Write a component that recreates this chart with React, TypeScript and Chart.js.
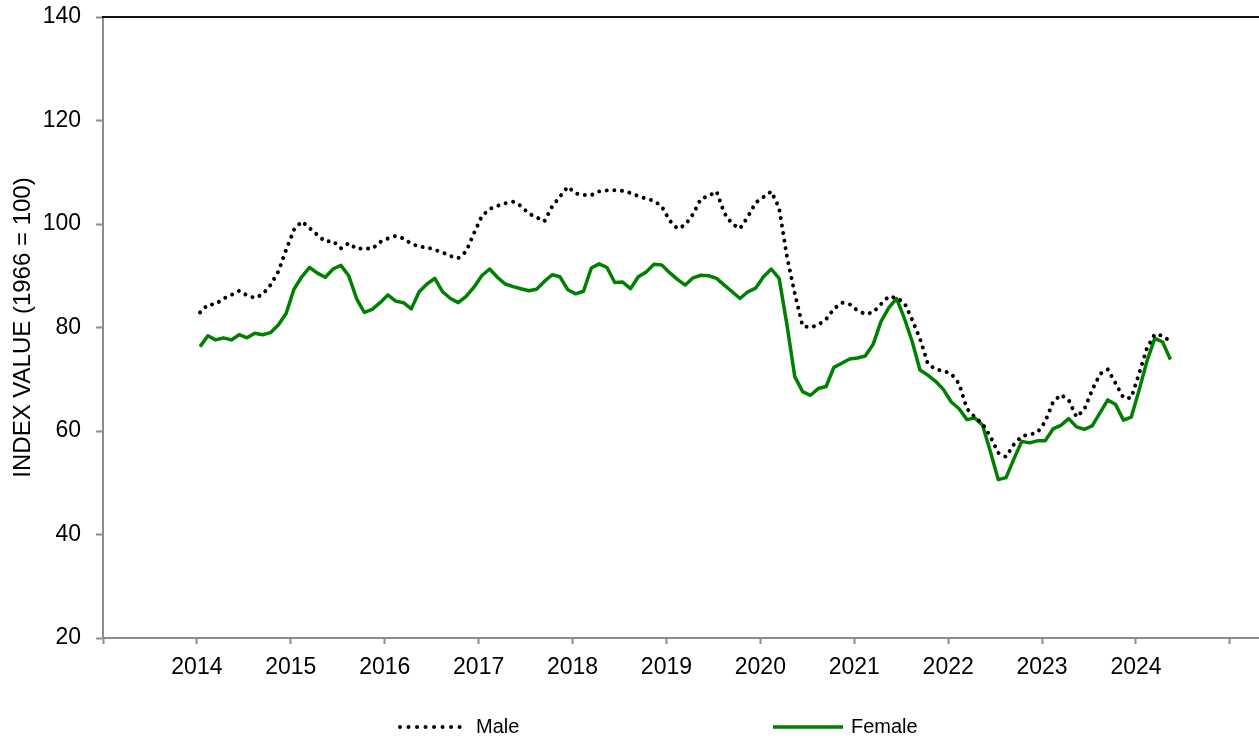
import React, { useEffect, useRef } from "react";
import { Chart, registerables } from "chart.js";

Chart.register(...registerables);

const START_YEAR = 2014;
const FIRST_LABELED_YEAR = 2014;
const LAST_LABELED_YEAR = 2024;
const Y_TITLE = "INDEX VALUE (1966 = 100)";
const SERIES_NAMES = ["Male", "Female"];

// Monthly values, Jan 2014 .. May 2024
const maleValues = [
  82.9, 84.4, 84.5, 85.6, 86.3, 87.1, 86.2, 85.7, 86.4, 88.2, 90.8, 95.0,
  98.9, 100.5, 99.2, 97.9, 96.6, 96.7, 95.3, 96.3, 95.2, 95.3, 95.2, 96.5,
  97.2, 97.7, 97.2, 96.2, 95.6, 95.5, 95.0, 94.5, 93.8, 93.4, 94.7, 98.2,
  101.5, 102.9, 103.5, 104.0, 104.3, 103.5, 102.0, 101.3, 100.5, 103.4, 105.3, 107.2,
  105.9, 105.6, 105.6, 106.3, 106.5, 106.5, 106.4, 106.0, 105.4, 104.9, 104.5, 103.4,
  100.7, 99.1, 99.8, 101.9, 104.9, 105.4, 106.3, 102.1, 100.0, 99.1, 101.4, 104.1,
  105.2, 106.3, 103.1, 93.7, 86.6, 80.3, 80.0, 80.5, 81.6, 83.6, 84.8, 84.5,
  83.3, 82.6, 82.9, 84.5, 86.0, 85.7, 84.8, 81.5, 77.8, 73.0, 71.9, 71.6,
  71.1, 69.1, 64.3, 62.7, 61.4, 58.9, 55.8, 55.0, 57.4, 59.0, 59.3, 59.7,
  61.8, 65.6, 67.0, 66.0, 62.7, 64.2, 67.9, 71.0, 71.9, 69.2, 66.4, 66.4,
  71.1, 76.0, 78.7, 78.4, 77.3,
];

const femaleValues = [
  76.3, 78.4, 77.6, 78.0, 77.6, 78.6, 78.0, 78.9, 78.6, 79.0, 80.5, 82.7,
  87.4, 89.8, 91.6, 90.5, 89.7, 91.3, 92.0, 90.0, 85.6, 82.9, 83.5, 84.8,
  86.3, 85.1, 84.8, 83.6, 86.9, 88.4, 89.5, 86.9, 85.6, 84.8, 86.0, 87.8,
  90.0, 91.3, 89.7, 88.4, 87.9, 87.5, 87.1, 87.4, 88.9, 90.2, 89.8, 87.3,
  86.5, 87.0, 91.5, 92.3, 91.6, 88.7, 88.8, 87.5, 89.8, 90.7, 92.2, 92.1,
  90.6, 89.3, 88.2, 89.6, 90.1, 90.0, 89.5, 88.2, 86.9, 85.6, 86.9, 87.6,
  89.8, 91.3, 89.5, 80.5, 70.5, 67.6, 66.9, 68.2, 68.6, 72.3, 73.1, 73.9,
  74.1, 74.5, 76.7, 81.1, 83.8, 85.6, 81.8, 77.3, 71.8, 70.8, 69.6, 68.0,
  65.6, 64.3, 62.2, 62.5, 61.1, 56.0, 50.6, 51.0, 54.6, 58.0, 57.7, 58.1,
  58.1, 60.4, 61.1, 62.4, 60.8, 60.3, 61.0, 63.5, 66.0, 65.1, 62.1, 62.7,
  67.9, 73.5, 77.9, 77.2, 73.8,
];

const Y_MIN = 20;
const Y_MAX = 140;
const Y_STEP = 20;
const X_MIN = 2013;
const X_MAX = 2025.31;

const FONT = "'Liberation Sans', Arial, Helvetica, sans-serif";
const AXIS_GRAY = "#8c8c8c";

// x position of month index i (decimal year, plotted mid-month)
const monthX = (i: number) => START_YEAR + (i + 0.4) / 12;

const toPoints = (vals: number[]) => vals.map((v, i) => ({ x: monthX(i), y: v }));

const topBorderPlugin = {
  id: "topBorder",
  afterDraw(chart: any) {
    const { ctx, chartArea } = chart;
    ctx.save();
    ctx.strokeStyle = "#111";
    ctx.lineWidth = 2;
    ctx.beginPath();
    ctx.moveTo(chartArea.left - 1, chartArea.top);
    ctx.lineTo(chartArea.right, chartArea.top);
    ctx.stroke();
    ctx.restore();
  },
};

const legendPlugin = {
  id: "customLegend",
  afterDraw(chart: any) {
    const { ctx } = chart;
    const y = 727;
    const items = [
      { name: SERIES_NAMES[0], x0: 400, x1: 468, color: "#000", dash: [0.01, 8.5], width: 4, cap: "round" },
      { name: SERIES_NAMES[1], x0: 773, x1: 843, color: "#008000", dash: [], width: 3.5, cap: "butt" },
    ];
    ctx.save();
    for (const it of items) {
      ctx.beginPath();
      ctx.strokeStyle = it.color;
      ctx.lineWidth = it.width;
      ctx.lineCap = it.cap;
      ctx.setLineDash(it.dash);
      ctx.moveTo(it.x0, y);
      ctx.lineTo(it.x1, y);
      ctx.stroke();
      ctx.setLineDash([]);
      ctx.fillStyle = "#000";
      ctx.font = `20px ${FONT}`;
      ctx.textBaseline = "middle";
      ctx.textAlign = "left";
      ctx.fillText(it.name, it.x1 + 8, y);
    }
    ctx.restore();
  },
};

export default function App() {
  const canvasRef = useRef<HTMLCanvasElement | null>(null);

  useEffect(() => {
    document.body.style.margin = "0";
    const canvas = canvasRef.current;
    if (!canvas) return;
    const chart = new Chart(canvas, {
      type: "line",
      data: {
        datasets: [
          {
            label: SERIES_NAMES[0],
            data: toPoints(maleValues),
            borderColor: "#000",
            borderWidth: 4,
            borderDash: [0.01, 7.6],
            borderCapStyle: "round",
            pointRadius: 0,
            tension: 0,
            fill: false,
          },
          {
            label: SERIES_NAMES[1],
            data: toPoints(femaleValues),
            borderColor: "#008000",
            borderWidth: 3.5,
            borderJoinStyle: "round",
            pointRadius: 0,
            tension: 0,
            fill: false,
          },
        ],
      },
      options: {
        animation: false,
        responsive: true,
        maintainAspectRatio: false,
        layout: { padding: { top: 17, right: 0, bottom: 0, left: 0 } },
        plugins: {
          legend: { display: false },
          tooltip: { enabled: false },
        },
        scales: {
          x: {
            type: "linear",
            min: X_MIN,
            max: X_MAX,
            afterFit: (scale: any) => {
              scale.height = 104;
              scale.paddingLeft = 0;
              scale.paddingRight = 0;
            },
            ticks: {
              stepSize: 1,
              includeBounds: false,
              autoSkip: false,
              maxRotation: 0,
              color: "#000",
              padding: 10,
              font: { family: FONT, size: 23 },
              callback: (v: any) =>
                v >= FIRST_LABELED_YEAR && v <= LAST_LABELED_YEAR ? String(v) : "",
            },
            grid: {
              drawOnChartArea: false,
              drawTicks: true,
              tickLength: 6,
              tickColor: AXIS_GRAY,
              tickWidth: 2,
            },
            border: { color: AXIS_GRAY, width: 2 },
          },
          y: {
            min: Y_MIN,
            max: Y_MAX,
            afterFit: (scale: any) => {
              scale.width = 103;
              scale.paddingTop = 0;
              scale.paddingBottom = 0;
            },
            ticks: {
              stepSize: Y_STEP,
              color: "#000",
              padding: 15,
              font: { family: FONT, size: 23 },
            },
            grid: {
              drawOnChartArea: false,
              drawTicks: true,
              tickLength: 7,
              tickColor: AXIS_GRAY,
              tickWidth: 2,
            },
            border: { color: AXIS_GRAY, width: 2 },
            title: {
              display: true,
              text: Y_TITLE,
              color: "#000",
              font: { family: FONT, size: 24 },
              padding: { top: 9, bottom: 0 },
            },
          },
        },
      },
      plugins: [topBorderPlugin, legendPlugin],
    } as any);
    return () => chart.destroy();
  }, []);

  return (
    <div style={{ position: "relative", width: "1259px", height: "742px" }}>
      <canvas ref={canvasRef} />
    </div>
  );
}
